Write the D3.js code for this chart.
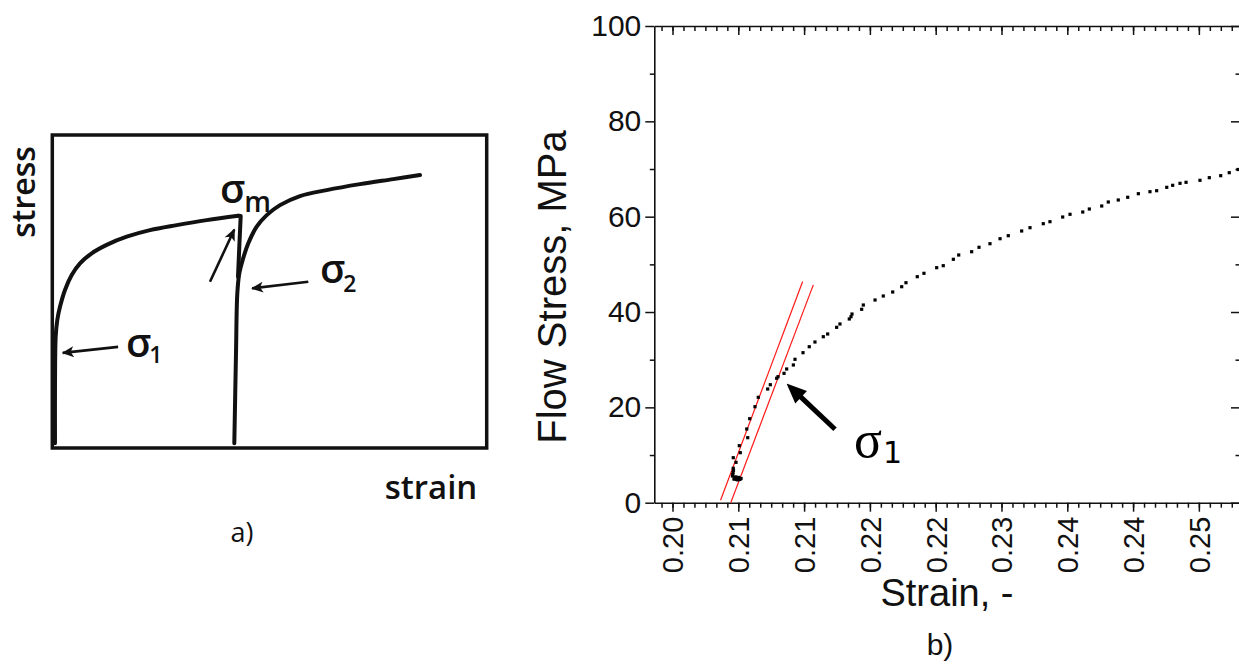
<!DOCTYPE html>
<html><head><meta charset="utf-8">
<script src="https://cdn.jsdelivr.net/npm/d3@7"></script>
<style>body{margin:0;background:#fff}svg{display:block}</style>
</head><body>
<svg id="c" width="1239" height="666"></svg>
<script>
// ---------- Panel a) schematic (normalized units 0..100) ----------
const curve1X = [0.62, 0.62, 0.78, 1.15, 1.77, 2.92, 4.47, 6.38, 9.07, 12.52, 17.13, 22.49, 28.64, 35.54, 42.82];
const curve1Y = [1.5, 19.6, 35.6, 40.9, 45.1, 50.5, 55.3, 59.0, 62.2, 64.9, 67.5, 69.6, 71.2, 72.8, 74.2];
const dropX = [42.82, 43.37, 43.1, 42.75];
const dropY = [74.2, 74.1, 66.0, 54.7];
const curve2X = [41.90, 42.29, 42.59, 43.05, 43.83, 45.12, 47.05, 49.36, 52.42, 57.02, 63.17, 70.83, 78.50, 84.65];
const curve2Y = [1.5, 30.4, 49.4, 55.8, 60.1, 65.4, 70.7, 74.4, 77.6, 80.5, 82.4, 84.3, 85.9, 87.2];

// ---------- Panel b) measured flow stress ----------
const strain = [0.20547,0.20561,0.20584,0.20606,0.20625,0.20552,0.20570,0.20595,
  0.20565,0.20595,0.20615,0.20550,0.20556,0.20578,0.20605,
  0.20554,0.20579,0.20554,0.20618,0.20609,0.20686,0.20677,0.20704,0.20752,0.20782,
  0.20868,0.20892,0.20950,0.20962,0.21017,0.21041,0.21102,0.21117,0.21190,0.21247,
  0.21299,0.21375,0.21415,0.21497,0.21527,0.21612,0.21628,0.21637,0.21725,0.21740,
  0.21847,0.21922,0.22008,0.22090,0.22129,0.22232,0.22293,0.22409,0.22469,0.22561,
  0.22610,0.22728,0.22795,0.22895,0.22987,0.23062,0.23184,0.23260,0.23381,0.23442,
  0.23558,0.23625,0.23741,0.23801,0.23914,0.23974,0.24065,0.24151,0.24248,0.24354,
  0.24415,0.24507,0.24561,0.24628,0.24683,0.24810,0.24895,0.24999,0.25077,0.25157];
const stress = [5.60,4.97,4.87,4.87,5.08,6.34,5.3,5.1,
  5.0,4.8,4.9,5.9,6.8,5.4,5.3,
  7.22,8.47,9.44,10.49,11.96,13.64,15.46,17.62,20.14,22.11,
  23.85,24.75,26.10,26.43,27.14,28.05,28.89,30.08,31.47,32.72,
  33.71,34.82,35.39,36.79,37.49,38.54,39.02,39.58,40.57,41.47,
  42.52,43.36,44.20,45.31,46.15,47.41,48.12,49.30,49.72,51.06,
  51.96,52.65,53.58,54.33,55.38,56.01,57.00,57.69,58.53,58.95,
  59.93,60.50,60.98,61.61,62.24,63.08,63.50,64.07,64.82,65.24,
  65.45,66.16,66.58,67.00,67.21,67.63,68.18,68.60,69.23,69.90];
const tangentAStrain = [0.20438, 0.21187];
const tangentAStress = [0.5, 46.4];
const tangentBStrain = [0.20531, 0.21284];
const tangentBStress = [0.0, 45.7];
const xTickValues = [0.200,0.206,0.212,0.218,0.224,0.230,0.236,0.242,0.248];
const xTickLabels = ["0.20","0.21","0.21","0.22","0.22","0.23","0.24","0.24","0.25"];
const yTickValues = [0,20,40,60,80,100];
const yTickLabels = ["0","20","40","60","80","100"];
const yMinorValues = [10,30,50,70,90];

const svg = d3.select("#c");

// ===== Panel a =====
const ax = d3.scaleLinear().domain([0,100]).range([52.3,486.7]);
const ay = d3.scaleLinear().domain([0,100]).range([448,135]);
const defs = svg.append("defs");
defs.append("marker").attr("id","hA").attr("markerUnits","userSpaceOnUse")
  .attr("viewBox","-12 -6 14 12").attr("refX",0).attr("refY",0)
  .attr("markerWidth",14).attr("markerHeight",12).attr("orient","auto")
  .append("path").attr("d","M1,0 L-11,-5.5 L-8,0 L-11,5.5 Z").attr("fill","#111");
defs.append("marker").attr("id","hB").attr("markerUnits","userSpaceOnUse")
  .attr("viewBox","-20 -9 22 18").attr("refX",0).attr("refY",0)
  .attr("markerWidth",22).attr("markerHeight",18).attr("orient","auto")
  .append("path").attr("d","M2,0 L-18,-8.5 L-18,8.5 Z").attr("fill","#000");

svg.append("rect").attr("x",ax(0)).attr("y",ay(100))
  .attr("width",ax(100)-ax(0)).attr("height",ay(0)-ay(100))
  .attr("fill","none").attr("stroke","#111").attr("stroke-width",3.5);
const smooth = d3.line().x(d=>ax(d[0])).y(d=>ay(d[1])).curve(d3.curveCatmullRom.alpha(0.5));
const straight = d3.line().x(d=>ax(d[0])).y(d=>ay(d[1]));
const sk = {fill:"none",stroke:"#111","stroke-width":4,"stroke-linecap":"round","stroke-linejoin":"round"};
function styl(sel,o){for(const k in o) sel.attr(k,o[k]); return sel;}
styl(svg.append("path").attr("d",smooth(d3.zip(curve1X,curve1Y))),sk);
styl(svg.append("path").attr("d",straight(d3.zip(dropX,dropY))),sk);
styl(svg.append("path").attr("d",smooth(d3.zip(curve2X,curve2Y))),sk);

// arrows panel a (tail -> tip, normalized units)
const arrowsA = [[15.15,32.3,2.4,30.4],[58.93,53.1,46.0,51.0],[36.3,53.1,41.9,69.8]];
arrowsA.forEach(a=>{
  svg.append("line").attr("x1",ax(a[0])).attr("y1",ay(a[1])).attr("x2",ax(a[2])).attr("y2",ay(a[3]))
    .attr("stroke","#111").attr("stroke-width",2.6).attr("marker-end","url(#hA)");
});
const fa = "'Open Sans', 'Noto Sans', sans-serif";
function sigma(x,y,sub,size,subSize,dy,dx){
  const t = svg.append("text").attr("x",x).attr("y",y).attr("font-family",fa).attr("font-weight",600)
    .attr("font-size",size).attr("fill","#111");
  t.append("tspan").text("σ");
  t.append("tspan").attr("dx",dx).attr("dy",dy).attr("font-size",subSize).text(sub);
}
sigma(126,357,"1",40,23,6,-2);
sigma(320,283,"2",40,23,9,-2);
sigma(220,203,"m",40,28,9,-1);
svg.append("text").attr("transform","translate(35,192) rotate(-90)").attr("text-anchor","middle")
  .attr("font-family",fa).attr("font-weight",600).attr("font-size",32).attr("fill","#111").text("stress");
svg.append("text").attr("x",431).attr("y",499).attr("text-anchor","middle")
  .attr("font-family",fa).attr("font-weight",600).attr("font-size",33).attr("fill","#111").text("strain");
svg.append("text").attr("x",242).attr("y",542).attr("text-anchor","middle")
  .attr("font-family",fa).attr("font-size",27).attr("fill","#111").text("a)");

// ===== Panel b =====
const x = d3.scaleLinear().domain([0.19834,0.25175]).range([654.3,1240]);
const y = d3.scaleLinear().domain([0,100]).range([502.7,26]);
const fb = "'Liberation Sans', Arial, sans-serif";
const xMinor = d3.range(199,252).map(v=>v/1000);

function axisStyle(g){
  g.selectAll("path.domain").attr("stroke","#111").attr("stroke-width",1.6);
  g.selectAll(".tick line").attr("stroke","#111").attr("stroke-width",1.5);
  g.selectAll(".tick text").attr("fill","#111").attr("font-family",fb);
}
// bottom
const gbm = svg.append("g").attr("transform",`translate(0,${y(0)})`)
  .call(d3.axisBottom(x).tickValues(xMinor).tickSize(5).tickFormat(""));
gbm.select(".domain").remove(); axisStyle(gbm);
const gb = svg.append("g").attr("transform",`translate(0,${y(0)})`)
  .call(d3.axisBottom(x).tickValues(xTickValues).tickSize(9).tickSizeOuter(0).tickFormat((d,i)=>xTickLabels[i]));
axisStyle(gb);
gb.selectAll(".tick text").attr("font-size",29).attr("text-anchor","end")
  .attr("transform","translate(0,14) rotate(-90)").attr("x",0).attr("y",0).attr("dy","0.36em");
// top
const gtm = svg.append("g").attr("transform",`translate(0,${y(100)})`)
  .call(d3.axisBottom(x).tickValues(xMinor).tickSize(5).tickFormat(""));
gtm.select(".domain").remove(); axisStyle(gtm);
const gt = svg.append("g").attr("transform",`translate(0,${y(100)})`)
  .call(d3.axisBottom(x).tickValues(xTickValues).tickSize(9).tickSizeOuter(0).tickFormat(""));
axisStyle(gt);
// left
const glm = svg.append("g").attr("transform",`translate(${x.range()[0]},0)`)
  .call(d3.axisLeft(y).tickValues(yMinorValues).tickSize(4.5).tickFormat(""));
glm.select(".domain").remove(); axisStyle(glm);
const gl = svg.append("g").attr("transform",`translate(${x.range()[0]},0)`)
  .call(d3.axisLeft(y).tickValues(yTickValues).tickSize(9).tickSizeOuter(0).tickPadding(4).tickFormat((d,i)=>yTickLabels[i]));
axisStyle(gl);
gl.selectAll(".tick text").attr("font-size",30);
// right
const grm = svg.append("g").attr("transform",`translate(${x.range()[1]},0)`)
  .call(d3.axisLeft(y).tickValues(yMinorValues).tickSize(4.5).tickFormat(""));
grm.select(".domain").remove(); axisStyle(grm);
const gr = svg.append("g").attr("transform",`translate(${x.range()[1]},0)`)
  .call(d3.axisLeft(y).tickValues(yTickValues).tickSize(9).tickSizeOuter(0).tickFormat(""));
axisStyle(gr);

// tangent lines
const ln = d3.line().x(d=>x(d[0])).y(d=>y(d[1]));
[[tangentAStrain,tangentAStress],[tangentBStrain,tangentBStress]].forEach(t=>{
  svg.append("path").attr("d",ln(d3.zip(t[0],t[1]))).attr("fill","none")
    .attr("stroke","#ff1a1a").attr("stroke-width",1.2);
});
// data points
svg.append("g").selectAll("rect").data(d3.zip(strain,stress)).join("rect")
  .attr("x",d=>x(d[0])-1.6).attr("y",d=>y(d[1])-1.6).attr("width",3.2).attr("height",3.2).attr("fill","#000");

// arrow to sigma1 (tail -> tip in data coords)
const arrowB = [0.21482,15.4,0.21040,25.0];
{
  const x1=x(arrowB[0]),y1=y(arrowB[1]),x2=x(arrowB[2]),y2=y(arrowB[3]);
  const L=Math.hypot(x2-x1,y2-y1), ux=(x2-x1)/L, uy=(y2-y1)/L;
  svg.append("line").attr("x1",x1).attr("y1",y1).attr("x2",x2-ux*2).attr("y2",y2-uy*2)
    .attr("stroke","#000").attr("stroke-width",5).attr("marker-end","url(#hB)")
    .attr("stroke-dasharray",`${L-14},1000`);
}
const s1 = svg.append("text").attr("x",854).attr("y",457).attr("fill","#000");
s1.append("tspan").attr("font-family","'Liberation Serif', 'DejaVu Serif', serif").attr("font-size",52).text("σ");
s1.append("tspan").attr("font-family","'DejaVu Sans', sans-serif").attr("font-size",30).attr("dy",6).attr("dx",1).text("1");

svg.append("text").attr("transform","translate(566,287) rotate(-90)").attr("text-anchor","middle")
  .attr("font-family",fb).attr("font-size",40).attr("fill","#111").text("Flow Stress, MPa");
svg.append("text").attr("x",947).attr("y",606).attr("text-anchor","middle")
  .attr("font-family",fb).attr("font-size",38).attr("fill","#111").text("Strain, -");
svg.append("text").attr("x",940).attr("y",655).attr("text-anchor","middle")
  .attr("font-family",fb).attr("font-size",30).attr("fill","#111").text("b)");
</script>
</body></html>
